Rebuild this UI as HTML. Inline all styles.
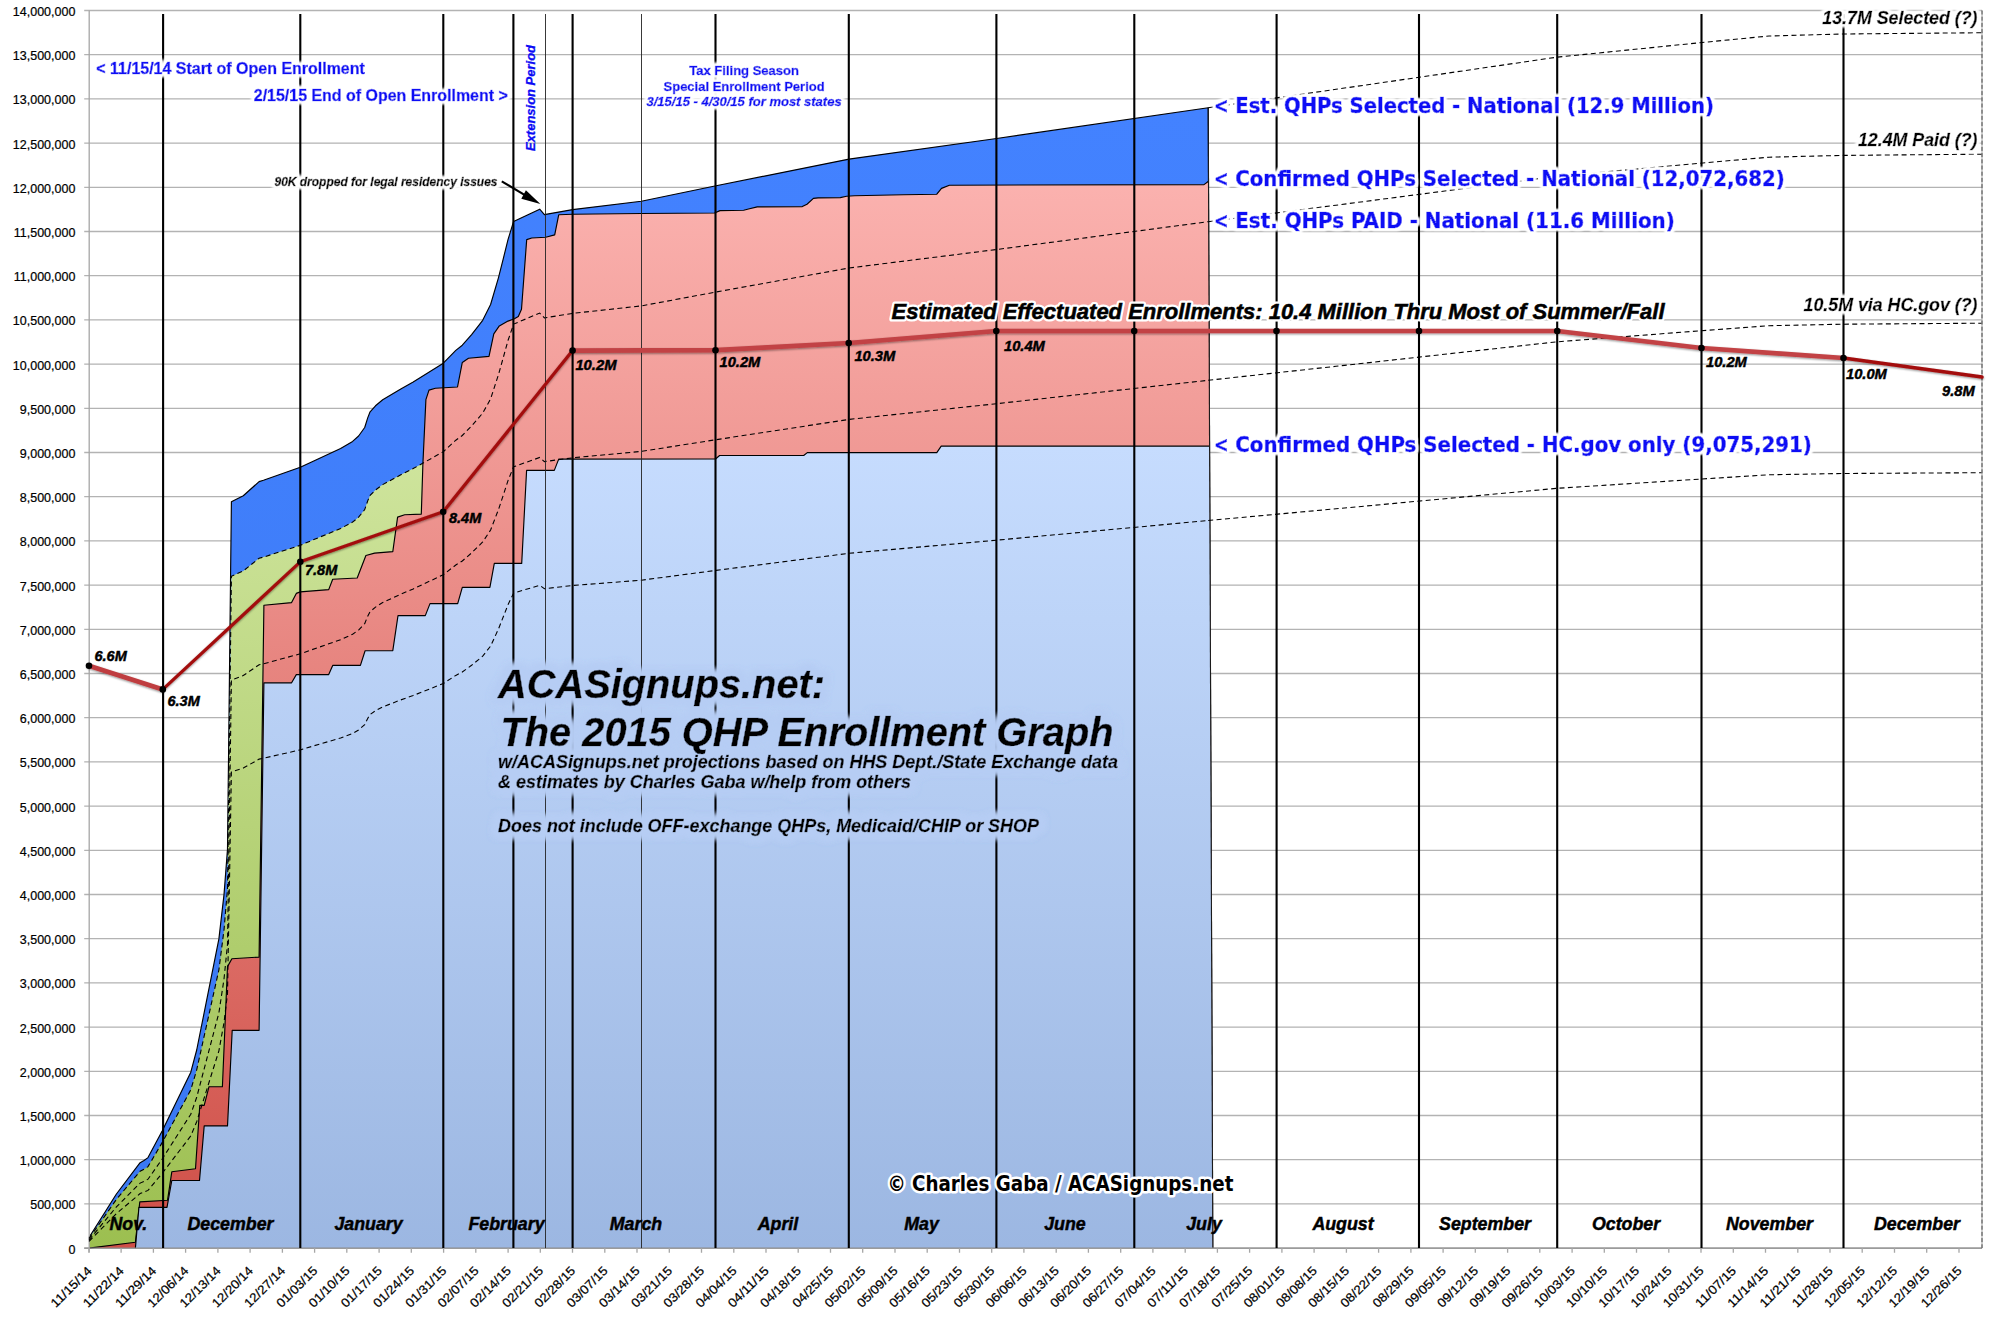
<!DOCTYPE html>
<html lang="en"><head><meta charset="utf-8"><title>ACASignups.net: The 2015 QHP Enrollment Graph</title>
<style>html,body{margin:0;padding:0;background:#fff}svg{display:block}text{font-family:"Liberation Sans",sans-serif}.bi{font-weight:bold;font-style:italic}.lg,.lg text{font-family:"DejaVu Sans Condensed","DejaVu Sans","Liberation Sans",sans-serif;font-weight:bold}.ax{font-family:"Liberation Sans",sans-serif;font-size:12.5px;fill:#000;stroke:#000;stroke-width:.22px}.sb text,text.sb{stroke:#0a0af5;stroke-width:.6px}.sk text,text.sk{stroke:#000;stroke-width:.45px}</style></head><body>
<svg width="2006" height="1327" viewBox="0 0 2006 1327">
<defs>
<linearGradient id="gR" gradientUnits="userSpaceOnUse" x1="0" y1="181" x2="0" y2="1248"><stop offset="0" stop-color="#fbb2af"/><stop offset="1" stop-color="#cf4f47"/></linearGradient>
<linearGradient id="gL" gradientUnits="userSpaceOnUse" x1="0" y1="446" x2="0" y2="1248"><stop offset="0" stop-color="#c6dcfe"/><stop offset="1" stop-color="#9cb7e2"/></linearGradient>
<linearGradient id="gG" gradientUnits="userSpaceOnUse" x1="0" y1="462" x2="0" y2="1248"><stop offset="0" stop-color="#cee49c"/><stop offset="1" stop-color="#9cbf50"/></linearGradient>
<linearGradient id="gB" gradientUnits="userSpaceOnUse" x1="0" y1="107" x2="0" y2="1248"><stop offset="0" stop-color="#4382ff"/><stop offset="1" stop-color="#3a78f2"/></linearGradient>
<filter id="gw" x="-5%" y="-40%" width="110%" height="180%"><feMorphology in="SourceAlpha" operator="dilate" radius="2" result="d"/><feGaussianBlur in="d" stdDeviation="1.4" result="b"/><feFlood flood-color="#fff" result="f"/><feComposite in="f" in2="b" operator="in" result="g"/><feMerge><feMergeNode in="g"/><feMergeNode in="g"/><feMergeNode in="g"/><feMergeNode in="SourceGraphic"/></feMerge></filter>
<filter id="gt" x="-5%" y="-15%" width="110%" height="130%"><feMorphology in="SourceAlpha" operator="dilate" radius="4" result="d"/><feGaussianBlur in="d" stdDeviation="3.6" result="b"/><feFlood flood-color="#b6cdf4" result="f"/><feComposite in="f" in2="b" operator="in" result="g"/><feMerge><feMergeNode in="g"/><feMergeNode in="g"/><feMergeNode in="g"/><feMergeNode in="g"/><feMergeNode in="SourceGraphic"/></feMerge></filter>
<filter id="ls" x="-5%" y="-5%" width="110%" height="110%"><feGaussianBlur in="SourceAlpha" stdDeviation="1.2" result="b"/><feOffset in="b" dx="0" dy="1" result="o"/><feComponentTransfer in="o" result="s"><feFuncA type="linear" slope="0.45"/></feComponentTransfer><feMerge><feMergeNode in="s"/><feMergeNode in="SourceGraphic"/></feMerge></filter>
<filter id="sb" x="-2%" y="-30%" width="104%" height="160%"><feGaussianBlur stdDeviation="0.7"/></filter>
<filter id="gw2" x="-3%" y="-40%" width="106%" height="180%"><feMorphology in="SourceAlpha" operator="dilate" radius="1.5" result="d"/><feGaussianBlur in="d" stdDeviation="1.1" result="b"/><feFlood flood-color="#fff" result="f"/><feComposite in="f" in2="b" operator="in" result="g"/><feMerge><feMergeNode in="g"/><feMergeNode in="g"/><feMergeNode in="g"/><feMergeNode in="SourceGraphic"/></feMerge></filter>
</defs>
<rect width="2006" height="1327" fill="#fff"/>
<path d="M84.2 1248.10H1982.0M84.2 1203.90H1982.0M84.2 1159.70H1982.0M84.2 1115.50H1982.0M84.2 1071.30H1982.0M84.2 1027.10H1982.0M84.2 982.90H1982.0M84.2 938.70H1982.0M84.2 894.50H1982.0M84.2 850.30H1982.0M84.2 806.10H1982.0M84.2 761.90H1982.0M84.2 717.70H1982.0M84.2 673.50H1982.0M84.2 629.30H1982.0M84.2 585.10H1982.0M84.2 540.90H1982.0M84.2 496.70H1982.0M84.2 452.50H1982.0M84.2 408.30H1982.0M84.2 364.10H1982.0M84.2 319.90H1982.0M84.2 275.70H1982.0M84.2 231.50H1982.0M84.2 187.30H1982.0M84.2 143.10H1982.0M84.2 98.90H1982.0M84.2 54.70H1982.0M84.2 10.50H1982.0" stroke="#b3b3b3" stroke-width="1.3" fill="none"/>
<polygon points="89.0,1248.1 89.0,1237.5 116.4,1194.0 140.1,1162.7 144.0,1160.5 148.0,1157.6 162.3,1130.7 190.8,1072.2 196.7,1050.0 218.9,938.9 224.0,894.6 227.5,849.0 231.4,501.7 243.3,495.7 259.1,481.6 263.5,480.3 300.3,467.2 311.6,461.9 340.6,448.6 352.6,441.4 358.6,436.0 364.7,427.5 367.7,417.9 370.1,411.8 375.5,405.8 382.7,399.8 400.8,388.9 413.2,382.0 443.3,363.2 455.8,350.4 462.3,345.2 471.6,334.6 482.7,320.3 490.6,304.5 498.5,277.6 503.3,258.6 508.0,239.6 513.6,221.4 539.7,209.2 544.4,214.6 572.6,209.6 641.3,201.2 716.1,185.8 849.0,159.1 996.6,138.5 1208.2,107.7 1212.8,1248.1" fill="url(#gB)"/>
<polyline points="89.0,1237.5 116.4,1194.0 140.1,1162.7 144.0,1160.5 148.0,1157.6 162.3,1130.7 190.8,1072.2 196.7,1050.0 218.9,938.9 224.0,894.6 227.5,849.0 231.4,501.7 243.3,495.7 259.1,481.6 263.5,480.3 300.3,467.2 311.6,461.9 340.6,448.6 352.6,441.4 358.6,436.0 364.7,427.5 367.7,417.9 370.1,411.8 375.5,405.8 382.7,399.8 400.8,388.9 413.2,382.0 443.3,363.2 455.8,350.4 462.3,345.2 471.6,334.6 482.7,320.3 490.6,304.5 498.5,277.6 503.3,258.6 508.0,239.6 513.6,221.4 539.7,209.2 544.4,214.6 572.6,209.6 641.3,201.2 716.1,185.8 849.0,159.1 996.6,138.5 1208.2,107.7 1212.8,1248.1" fill="none" stroke="#000" stroke-width="1.15" stroke-linejoin="round"/>
<polygon points="89.0,1248.1 89.0,1238.6 116.4,1199.4 140.1,1171.2 144.0,1169.3 148.0,1166.6 162.3,1142.4 190.8,1089.8 196.7,1069.8 218.9,969.8 224.0,930.0 227.5,888.9 231.4,576.3 243.3,570.9 259.1,558.2 263.5,557.1 300.3,545.3 311.6,540.5 340.6,528.5 352.6,522.1 358.6,517.2 364.7,509.6 367.7,500.9 370.1,495.4 375.5,490.0 382.7,484.6 400.8,474.8 413.2,468.6 422.9,463.2 423.5,1248.1" fill="url(#gG)" stroke="none"/>
<polygon points="89.0,1248.1 135.4,1242.2 139.8,1201.9 167.5,1200.3 171.8,1171.8 195.5,1168.7 199.8,1105.4 204.2,1105.4 209.0,1086.7 222.4,1086.7 227.5,966.6 231.9,958.7 259.1,957.1 263.9,605.3 291.6,602.6 296.3,593.4 300.3,591.9 328.7,589.6 332.7,579.2 357.2,578.0 365.9,555.5 374.6,553.1 392.8,551.6 397.6,517.1 404.7,514.7 421.3,514.1 422.9,463.7 425.9,399.6 429.0,390.1 435.4,388.2 457.5,387.0 462.3,362.4 468.5,358.3 489.0,356.4 493.8,333.8 499.3,325.9 508.0,321.1 514.4,318.7 518.3,316.4 521.5,309.2 526.7,239.6 531.8,238.0 545.7,237.2 554.7,234.9 558.7,214.8 572.6,214.3 641.3,213.5 714.5,213.0 720.0,210.6 743.7,210.2 748.5,209.0 757.2,206.9 802.3,206.6 807.0,204.2 813.4,198.4 818.1,197.9 840.3,197.6 846.6,196.3 854.5,195.8 903.5,194.7 936.8,194.2 941.5,188.4 949.4,185.2 1204.0,184.6 1208.5,181.3 1212.8,1248.1" fill="url(#gR)"/>
<polyline points="89.0,1248.1 135.4,1242.2 139.8,1201.9 167.5,1200.3 171.8,1171.8 195.5,1168.7 199.8,1105.4 204.2,1105.4 209.0,1086.7 222.4,1086.7 227.5,966.6 231.9,958.7 259.1,957.1 263.9,605.3 291.6,602.6 296.3,593.4 300.3,591.9 328.7,589.6 332.7,579.2 357.2,578.0 365.9,555.5 374.6,553.1 392.8,551.6 397.6,517.1 404.7,514.7 421.3,514.1 422.9,463.7 425.9,399.6 429.0,390.1 435.4,388.2 457.5,387.0 462.3,362.4 468.5,358.3 489.0,356.4 493.8,333.8 499.3,325.9 508.0,321.1 514.4,318.7 518.3,316.4 521.5,309.2 526.7,239.6 531.8,238.0 545.7,237.2 554.7,234.9 558.7,214.8 572.6,214.3 641.3,213.5 714.5,213.0 720.0,210.6 743.7,210.2 748.5,209.0 757.2,206.9 802.3,206.6 807.0,204.2 813.4,198.4 818.1,197.9 840.3,197.6 846.6,196.3 854.5,195.8 903.5,194.7 936.8,194.2 941.5,188.4 949.4,185.2 1204.0,184.6 1208.5,181.3" fill="none" stroke="#000" stroke-width="1.15" stroke-linejoin="round"/>
<polygon points="135.4,1248.1 138.9,1207.4 167.0,1207.4 171.8,1180.5 199.5,1180.5 204.2,1125.9 227.5,1125.9 232.2,1030.3 259.1,1030.3 263.9,682.8 291.6,682.8 296.3,674.6 328.7,674.6 332.7,665.4 360.4,665.4 365.1,650.7 392.8,650.7 398.0,615.6 425.3,615.6 430.0,603.6 457.7,603.6 462.3,587.4 489.9,587.4 494.3,563.4 521.7,563.4 526.6,470.4 554.3,470.4 558.7,459.1 715.5,459.0 719.6,455.5 803.7,455.5 807.3,452.6 936.8,452.6 941.2,446.1 1209.6,446.1 1212.8,1248.1" fill="url(#gL)"/>
<polyline points="135.4,1248.1 138.9,1207.4 167.0,1207.4 171.8,1180.5 199.5,1180.5 204.2,1125.9 227.5,1125.9 232.2,1030.3 259.1,1030.3 263.9,682.8 291.6,682.8 296.3,674.6 328.7,674.6 332.7,665.4 360.4,665.4 365.1,650.7 392.8,650.7 398.0,615.6 425.3,615.6 430.0,603.6 457.7,603.6 462.3,587.4 489.9,587.4 494.3,563.4 521.7,563.4 526.6,470.4 554.3,470.4 558.7,459.1 715.5,459.0 719.6,455.5 803.7,455.5 807.3,452.6 936.8,452.6 941.2,446.1 1209.6,446.1" fill="none" stroke="#000" stroke-width="1.15" stroke-linejoin="round"/>
<path d="M1208.2 107.7L1212.8 1248.1" stroke="#1a1a1a" stroke-width="1.1" fill="none"/>
<path d="M84.2 1248.1H1982.0" stroke="#8c8c8c" stroke-width="1.3" fill="none"/>
<path d="M89.2 10.5V1252.6" stroke="#a6a6a6" stroke-width="1.3" fill="none"/>
<path d="M88.9 1248.1v4.6M121.1 1248.1v4.6M153.4 1248.1v4.6M185.6 1248.1v4.6M217.9 1248.1v4.6M250.1 1248.1v4.6M282.4 1248.1v4.6M314.6 1248.1v4.6M346.8 1248.1v4.6M379.1 1248.1v4.6M411.3 1248.1v4.6M443.6 1248.1v4.6M475.8 1248.1v4.6M508.1 1248.1v4.6M540.3 1248.1v4.6M572.5 1248.1v4.6M604.8 1248.1v4.6M637.0 1248.1v4.6M669.3 1248.1v4.6M701.5 1248.1v4.6M733.8 1248.1v4.6M766.0 1248.1v4.6M798.2 1248.1v4.6M830.5 1248.1v4.6M862.7 1248.1v4.6M895.0 1248.1v4.6M927.2 1248.1v4.6M959.5 1248.1v4.6M991.7 1248.1v4.6M1023.9 1248.1v4.6M1056.2 1248.1v4.6M1088.4 1248.1v4.6M1120.7 1248.1v4.6M1152.9 1248.1v4.6M1185.2 1248.1v4.6M1217.4 1248.1v4.6M1249.6 1248.1v4.6M1281.9 1248.1v4.6M1314.1 1248.1v4.6M1346.4 1248.1v4.6M1378.6 1248.1v4.6M1410.9 1248.1v4.6M1443.1 1248.1v4.6M1475.3 1248.1v4.6M1507.6 1248.1v4.6M1539.8 1248.1v4.6M1572.1 1248.1v4.6M1604.3 1248.1v4.6M1636.5 1248.1v4.6M1668.8 1248.1v4.6M1701.0 1248.1v4.6M1733.3 1248.1v4.6M1765.5 1248.1v4.6M1797.8 1248.1v4.6M1830.0 1248.1v4.6M1862.2 1248.1v4.6M1894.5 1248.1v4.6M1926.7 1248.1v4.6M1959.0 1248.1v4.6" stroke="#a6a6a6" stroke-width="1.3" fill="none"/>
<polyline points="89.0,1238.6 116.4,1199.4 140.1,1171.2 144.0,1169.3 148.0,1166.6 162.3,1142.4 190.8,1089.8 196.7,1069.8 218.9,969.8 224.0,930.0 227.5,888.9 231.4,576.3 243.3,570.9 259.1,558.2 263.5,557.1 300.3,545.3 311.6,540.5 340.6,528.5 352.6,522.1 358.6,517.2 364.7,509.6 367.7,500.9 370.1,495.4 375.5,490.0 382.7,484.6 400.8,474.8 413.2,468.6 443.3,451.7 455.8,440.2 462.3,435.5 471.6,426.0 482.7,413.1 490.6,398.9 498.5,374.6 503.3,357.5 508.0,340.5 513.6,324.1 539.7,313.1 544.4,317.9 572.6,313.4 641.3,305.9 716.1,292.0 849.0,268.0 996.6,249.5 1208.2,221.7" fill="none" stroke="#000" stroke-width="1.1" stroke-dasharray="5 3.4"/>
<polyline points="89.0,1240.0 116.4,1206.9 140.1,1183.1 144.0,1181.4 148.0,1179.2 162.3,1158.8 190.8,1114.2 196.7,1097.3 218.9,1012.8 224.0,979.1 227.5,944.4 231.4,680.1 243.3,675.5 259.1,664.8 263.5,663.8 300.3,653.8 311.6,649.8 340.6,639.7 352.6,634.2 358.6,630.1 364.7,623.6 367.7,616.3 370.1,611.7 375.5,607.1 382.7,602.5 400.8,594.2 413.2,589.0 443.3,574.7 455.8,565.0 462.3,561.0 471.6,552.9 482.7,542.0 490.6,530.0 498.5,509.5 503.3,495.1 508.0,480.6 513.6,466.8 539.7,457.5 544.4,461.6 572.6,457.8 641.3,451.4 716.1,439.7 849.0,419.4 996.6,403.7 1208.2,380.3" fill="none" stroke="#000" stroke-width="1.1" stroke-dasharray="5 3.4"/>
<polyline points="89.0,1241.3 116.4,1213.6 140.1,1193.6 144.0,1192.2 148.0,1190.4 162.3,1173.2 190.8,1135.9 196.7,1121.7 218.9,1050.8 224.0,1022.6 227.5,993.5 231.4,771.9 243.3,768.1 259.1,759.1 263.5,758.2 300.3,749.9 311.6,746.5 340.6,738.0 352.6,733.4 358.6,730.0 364.7,724.6 367.7,718.4 370.1,714.5 375.5,710.7 382.7,706.9 400.8,699.9 413.2,695.5 443.3,683.5 455.8,675.4 462.3,672.0 471.6,665.3 482.7,656.2 490.6,646.1 498.5,628.9 503.3,616.8 508.0,604.7 513.6,593.1 539.7,585.3 544.4,588.7 572.6,585.5 641.3,580.2 716.1,570.4 849.0,553.3 996.6,540.2 1208.2,520.5" fill="none" stroke="#000" stroke-width="1.1" stroke-dasharray="5 3.4"/>
<polyline points="1208.2,107.7 1336.0,89.3 1419.0,77.3 1556.0,57.3 1700.0,42.7 1769.0,36.0 1842.7,34.0 1982.0,32.7" fill="none" stroke="#000" stroke-width="1.1" stroke-dasharray="5 3.4"/>
<polyline points="1208.2,221.7 1336.0,205.2 1419.0,194.4 1556.0,176.4 1700.0,163.2 1769.0,157.2 1842.7,155.4 1982.0,154.2" fill="none" stroke="#000" stroke-width="1.1" stroke-dasharray="5 3.4"/>
<polyline points="1208.2,380.3 1336.0,366.3 1419.0,357.1 1556.0,341.9 1700.0,330.8 1769.0,325.7 1842.7,324.2 1982.0,323.2" fill="none" stroke="#000" stroke-width="1.1" stroke-dasharray="5 3.4"/>
<polyline points="1208.2,520.5 1336.0,508.8 1419.0,501.1 1556.0,488.4 1700.0,479.1 1769.0,474.8 1842.7,473.5 1982.0,472.7" fill="none" stroke="#000" stroke-width="1.1" stroke-dasharray="5 3.4"/>
<path d="M1982.0 10.5V1248.1" stroke="#b3b3b3" stroke-width="1.2" fill="none"/>
<path d="M1982.0 10.5V1248.1" stroke="#4d4d4d" stroke-width="1" stroke-dasharray="4 2.2" fill="none"/>
<path d="M163.1 14V1248.1M300.3 14V1248.1M443.3 14V1248.1M513.4 14V1248.1M572.6 14V1248.1M715.5 14V1248.1M848.8 14V1248.1M996.4 14V1248.1M1134.3 14V1248.1M1276.6 14V1248.1M1419.0 14V1248.1M1557.2 14V1248.1M1701.5 14V1248.1M1843.5 14V1248.1" stroke="#000" stroke-width="2.1" fill="none"/>
<path d="M545.5 14V1248.1M641.5 14V1248.1" stroke="#222" stroke-width="0.9" fill="none"/>
<g filter="url(#ls)" fill="none" stroke-linejoin="round" stroke-linecap="round">
<polyline points="89.0,665.8 162.8,689.4" stroke="#bf3d3f" stroke-width="4.7"/>
<polyline points="162.8,689.4 300.3,561.8 443.2,511.8 572.6,350.6" stroke="#a30d0d" stroke-width="3.2"/>
<polyline points="572.6,350.6 715.5,350.2 848.7,343.0 996.3,331.0 1134.2,331.0 1276.5,331.0 1419.0,331.0 1557.2,331.0 1701.5,348.0 1843.5,358.0" stroke="#c24245" stroke-width="4.7"/>
<polyline points="1843.5,358.0 1982.0,377.0" stroke="#a30d0d" stroke-width="3.6"/>
</g>
<circle cx="89.0" cy="665.8" r="3.3" fill="#000"/>
<circle cx="162.8" cy="689.4" r="3.3" fill="#000"/>
<circle cx="300.3" cy="561.8" r="3.3" fill="#000"/>
<circle cx="443.2" cy="511.8" r="3.3" fill="#000"/>
<circle cx="572.6" cy="350.6" r="3.3" fill="#000"/>
<circle cx="715.5" cy="350.2" r="3.3" fill="#000"/>
<circle cx="848.7" cy="343.0" r="3.3" fill="#000"/>
<circle cx="996.3" cy="331.0" r="3.3" fill="#000"/>
<circle cx="1134.2" cy="331.0" r="3.3" fill="#000"/>
<circle cx="1276.5" cy="331.0" r="3.3" fill="#000"/>
<circle cx="1419.0" cy="331.0" r="3.3" fill="#000"/>
<circle cx="1557.2" cy="331.0" r="3.3" fill="#000"/>
<circle cx="1701.5" cy="348.0" r="3.3" fill="#000"/>
<circle cx="1843.5" cy="358.0" r="3.3" fill="#000"/>
<text class="ax" x="75.4" y="1253.5" text-anchor="end">0</text>
<text class="ax" x="75.4" y="1209.3" text-anchor="end">500,000</text>
<text class="ax" x="75.4" y="1165.1" text-anchor="end">1,000,000</text>
<text class="ax" x="75.4" y="1120.9" text-anchor="end">1,500,000</text>
<text class="ax" x="75.4" y="1076.7" text-anchor="end">2,000,000</text>
<text class="ax" x="75.4" y="1032.5" text-anchor="end">2,500,000</text>
<text class="ax" x="75.4" y="988.3" text-anchor="end">3,000,000</text>
<text class="ax" x="75.4" y="944.1" text-anchor="end">3,500,000</text>
<text class="ax" x="75.4" y="899.9" text-anchor="end">4,000,000</text>
<text class="ax" x="75.4" y="855.7" text-anchor="end">4,500,000</text>
<text class="ax" x="75.4" y="811.5" text-anchor="end">5,000,000</text>
<text class="ax" x="75.4" y="767.3" text-anchor="end">5,500,000</text>
<text class="ax" x="75.4" y="723.1" text-anchor="end">6,000,000</text>
<text class="ax" x="75.4" y="678.9" text-anchor="end">6,500,000</text>
<text class="ax" x="75.4" y="634.7" text-anchor="end">7,000,000</text>
<text class="ax" x="75.4" y="590.5" text-anchor="end">7,500,000</text>
<text class="ax" x="75.4" y="546.3" text-anchor="end">8,000,000</text>
<text class="ax" x="75.4" y="502.1" text-anchor="end">8,500,000</text>
<text class="ax" x="75.4" y="457.9" text-anchor="end">9,000,000</text>
<text class="ax" x="75.4" y="413.7" text-anchor="end">9,500,000</text>
<text class="ax" x="75.4" y="369.5" text-anchor="end">10,000,000</text>
<text class="ax" x="75.4" y="325.3" text-anchor="end">10,500,000</text>
<text class="ax" x="75.4" y="281.1" text-anchor="end">11,000,000</text>
<text class="ax" x="75.4" y="236.9" text-anchor="end">11,500,000</text>
<text class="ax" x="75.4" y="192.7" text-anchor="end">12,000,000</text>
<text class="ax" x="75.4" y="148.5" text-anchor="end">12,500,000</text>
<text class="ax" x="75.4" y="104.3" text-anchor="end">13,000,000</text>
<text class="ax" x="75.4" y="60.1" text-anchor="end">13,500,000</text>
<text class="ax" x="75.4" y="15.9" text-anchor="end">14,000,000</text>
<text class="ax" transform="translate(92.5 1271.6) rotate(-45)" text-anchor="end" font-size="13" textLength="51.8" lengthAdjust="spacingAndGlyphs">11/15/14</text>
<text class="ax" transform="translate(124.7 1271.6) rotate(-45)" text-anchor="end" font-size="13" textLength="51.8" lengthAdjust="spacingAndGlyphs">11/22/14</text>
<text class="ax" transform="translate(157.0 1271.6) rotate(-45)" text-anchor="end" font-size="13" textLength="51.8" lengthAdjust="spacingAndGlyphs">11/29/14</text>
<text class="ax" transform="translate(189.2 1271.6) rotate(-45)" text-anchor="end" font-size="13" textLength="51.8" lengthAdjust="spacingAndGlyphs">12/06/14</text>
<text class="ax" transform="translate(221.5 1271.6) rotate(-45)" text-anchor="end" font-size="13" textLength="51.8" lengthAdjust="spacingAndGlyphs">12/13/14</text>
<text class="ax" transform="translate(253.7 1271.6) rotate(-45)" text-anchor="end" font-size="13" textLength="51.8" lengthAdjust="spacingAndGlyphs">12/20/14</text>
<text class="ax" transform="translate(286.0 1271.6) rotate(-45)" text-anchor="end" font-size="13" textLength="51.8" lengthAdjust="spacingAndGlyphs">12/27/14</text>
<text class="ax" transform="translate(318.2 1271.6) rotate(-45)" text-anchor="end" font-size="13" textLength="51.8" lengthAdjust="spacingAndGlyphs">01/03/15</text>
<text class="ax" transform="translate(350.4 1271.6) rotate(-45)" text-anchor="end" font-size="13" textLength="51.8" lengthAdjust="spacingAndGlyphs">01/10/15</text>
<text class="ax" transform="translate(382.7 1271.6) rotate(-45)" text-anchor="end" font-size="13" textLength="51.8" lengthAdjust="spacingAndGlyphs">01/17/15</text>
<text class="ax" transform="translate(414.9 1271.6) rotate(-45)" text-anchor="end" font-size="13" textLength="51.8" lengthAdjust="spacingAndGlyphs">01/24/15</text>
<text class="ax" transform="translate(447.2 1271.6) rotate(-45)" text-anchor="end" font-size="13" textLength="51.8" lengthAdjust="spacingAndGlyphs">01/31/15</text>
<text class="ax" transform="translate(479.4 1271.6) rotate(-45)" text-anchor="end" font-size="13" textLength="51.8" lengthAdjust="spacingAndGlyphs">02/07/15</text>
<text class="ax" transform="translate(511.7 1271.6) rotate(-45)" text-anchor="end" font-size="13" textLength="51.8" lengthAdjust="spacingAndGlyphs">02/14/15</text>
<text class="ax" transform="translate(543.9 1271.6) rotate(-45)" text-anchor="end" font-size="13" textLength="51.8" lengthAdjust="spacingAndGlyphs">02/21/15</text>
<text class="ax" transform="translate(576.1 1271.6) rotate(-45)" text-anchor="end" font-size="13" textLength="51.8" lengthAdjust="spacingAndGlyphs">02/28/15</text>
<text class="ax" transform="translate(608.4 1271.6) rotate(-45)" text-anchor="end" font-size="13" textLength="51.8" lengthAdjust="spacingAndGlyphs">03/07/15</text>
<text class="ax" transform="translate(640.6 1271.6) rotate(-45)" text-anchor="end" font-size="13" textLength="51.8" lengthAdjust="spacingAndGlyphs">03/14/15</text>
<text class="ax" transform="translate(672.9 1271.6) rotate(-45)" text-anchor="end" font-size="13" textLength="51.8" lengthAdjust="spacingAndGlyphs">03/21/15</text>
<text class="ax" transform="translate(705.1 1271.6) rotate(-45)" text-anchor="end" font-size="13" textLength="51.8" lengthAdjust="spacingAndGlyphs">03/28/15</text>
<text class="ax" transform="translate(737.4 1271.6) rotate(-45)" text-anchor="end" font-size="13" textLength="51.8" lengthAdjust="spacingAndGlyphs">04/04/15</text>
<text class="ax" transform="translate(769.6 1271.6) rotate(-45)" text-anchor="end" font-size="13" textLength="51.8" lengthAdjust="spacingAndGlyphs">04/11/15</text>
<text class="ax" transform="translate(801.8 1271.6) rotate(-45)" text-anchor="end" font-size="13" textLength="51.8" lengthAdjust="spacingAndGlyphs">04/18/15</text>
<text class="ax" transform="translate(834.1 1271.6) rotate(-45)" text-anchor="end" font-size="13" textLength="51.8" lengthAdjust="spacingAndGlyphs">04/25/15</text>
<text class="ax" transform="translate(866.3 1271.6) rotate(-45)" text-anchor="end" font-size="13" textLength="51.8" lengthAdjust="spacingAndGlyphs">05/02/15</text>
<text class="ax" transform="translate(898.6 1271.6) rotate(-45)" text-anchor="end" font-size="13" textLength="51.8" lengthAdjust="spacingAndGlyphs">05/09/15</text>
<text class="ax" transform="translate(930.8 1271.6) rotate(-45)" text-anchor="end" font-size="13" textLength="51.8" lengthAdjust="spacingAndGlyphs">05/16/15</text>
<text class="ax" transform="translate(963.1 1271.6) rotate(-45)" text-anchor="end" font-size="13" textLength="51.8" lengthAdjust="spacingAndGlyphs">05/23/15</text>
<text class="ax" transform="translate(995.3 1271.6) rotate(-45)" text-anchor="end" font-size="13" textLength="51.8" lengthAdjust="spacingAndGlyphs">05/30/15</text>
<text class="ax" transform="translate(1027.5 1271.6) rotate(-45)" text-anchor="end" font-size="13" textLength="51.8" lengthAdjust="spacingAndGlyphs">06/06/15</text>
<text class="ax" transform="translate(1059.8 1271.6) rotate(-45)" text-anchor="end" font-size="13" textLength="51.8" lengthAdjust="spacingAndGlyphs">06/13/15</text>
<text class="ax" transform="translate(1092.0 1271.6) rotate(-45)" text-anchor="end" font-size="13" textLength="51.8" lengthAdjust="spacingAndGlyphs">06/20/15</text>
<text class="ax" transform="translate(1124.3 1271.6) rotate(-45)" text-anchor="end" font-size="13" textLength="51.8" lengthAdjust="spacingAndGlyphs">06/27/15</text>
<text class="ax" transform="translate(1156.5 1271.6) rotate(-45)" text-anchor="end" font-size="13" textLength="51.8" lengthAdjust="spacingAndGlyphs">07/04/15</text>
<text class="ax" transform="translate(1188.8 1271.6) rotate(-45)" text-anchor="end" font-size="13" textLength="51.8" lengthAdjust="spacingAndGlyphs">07/11/15</text>
<text class="ax" transform="translate(1221.0 1271.6) rotate(-45)" text-anchor="end" font-size="13" textLength="51.8" lengthAdjust="spacingAndGlyphs">07/18/15</text>
<text class="ax" transform="translate(1253.2 1271.6) rotate(-45)" text-anchor="end" font-size="13" textLength="51.8" lengthAdjust="spacingAndGlyphs">07/25/15</text>
<text class="ax" transform="translate(1285.5 1271.6) rotate(-45)" text-anchor="end" font-size="13" textLength="51.8" lengthAdjust="spacingAndGlyphs">08/01/15</text>
<text class="ax" transform="translate(1317.7 1271.6) rotate(-45)" text-anchor="end" font-size="13" textLength="51.8" lengthAdjust="spacingAndGlyphs">08/08/15</text>
<text class="ax" transform="translate(1350.0 1271.6) rotate(-45)" text-anchor="end" font-size="13" textLength="51.8" lengthAdjust="spacingAndGlyphs">08/15/15</text>
<text class="ax" transform="translate(1382.2 1271.6) rotate(-45)" text-anchor="end" font-size="13" textLength="51.8" lengthAdjust="spacingAndGlyphs">08/22/15</text>
<text class="ax" transform="translate(1414.5 1271.6) rotate(-45)" text-anchor="end" font-size="13" textLength="51.8" lengthAdjust="spacingAndGlyphs">08/29/15</text>
<text class="ax" transform="translate(1446.7 1271.6) rotate(-45)" text-anchor="end" font-size="13" textLength="51.8" lengthAdjust="spacingAndGlyphs">09/05/15</text>
<text class="ax" transform="translate(1478.9 1271.6) rotate(-45)" text-anchor="end" font-size="13" textLength="51.8" lengthAdjust="spacingAndGlyphs">09/12/15</text>
<text class="ax" transform="translate(1511.2 1271.6) rotate(-45)" text-anchor="end" font-size="13" textLength="51.8" lengthAdjust="spacingAndGlyphs">09/19/15</text>
<text class="ax" transform="translate(1543.4 1271.6) rotate(-45)" text-anchor="end" font-size="13" textLength="51.8" lengthAdjust="spacingAndGlyphs">09/26/15</text>
<text class="ax" transform="translate(1575.7 1271.6) rotate(-45)" text-anchor="end" font-size="13" textLength="51.8" lengthAdjust="spacingAndGlyphs">10/03/15</text>
<text class="ax" transform="translate(1607.9 1271.6) rotate(-45)" text-anchor="end" font-size="13" textLength="51.8" lengthAdjust="spacingAndGlyphs">10/10/15</text>
<text class="ax" transform="translate(1640.1 1271.6) rotate(-45)" text-anchor="end" font-size="13" textLength="51.8" lengthAdjust="spacingAndGlyphs">10/17/15</text>
<text class="ax" transform="translate(1672.4 1271.6) rotate(-45)" text-anchor="end" font-size="13" textLength="51.8" lengthAdjust="spacingAndGlyphs">10/24/15</text>
<text class="ax" transform="translate(1704.6 1271.6) rotate(-45)" text-anchor="end" font-size="13" textLength="51.8" lengthAdjust="spacingAndGlyphs">10/31/15</text>
<text class="ax" transform="translate(1736.9 1271.6) rotate(-45)" text-anchor="end" font-size="13" textLength="51.8" lengthAdjust="spacingAndGlyphs">11/07/15</text>
<text class="ax" transform="translate(1769.1 1271.6) rotate(-45)" text-anchor="end" font-size="13" textLength="51.8" lengthAdjust="spacingAndGlyphs">11/14/15</text>
<text class="ax" transform="translate(1801.4 1271.6) rotate(-45)" text-anchor="end" font-size="13" textLength="51.8" lengthAdjust="spacingAndGlyphs">11/21/15</text>
<text class="ax" transform="translate(1833.6 1271.6) rotate(-45)" text-anchor="end" font-size="13" textLength="51.8" lengthAdjust="spacingAndGlyphs">11/28/15</text>
<text class="ax" transform="translate(1865.8 1271.6) rotate(-45)" text-anchor="end" font-size="13" textLength="51.8" lengthAdjust="spacingAndGlyphs">12/05/15</text>
<text class="ax" transform="translate(1898.1 1271.6) rotate(-45)" text-anchor="end" font-size="13" textLength="51.8" lengthAdjust="spacingAndGlyphs">12/12/15</text>
<text class="ax" transform="translate(1930.3 1271.6) rotate(-45)" text-anchor="end" font-size="13" textLength="51.8" lengthAdjust="spacingAndGlyphs">12/19/15</text>
<text class="ax" transform="translate(1962.6 1271.6) rotate(-45)" text-anchor="end" font-size="13" textLength="51.8" lengthAdjust="spacingAndGlyphs">12/26/15</text>
<text class="bi sk" x="128.3" y="1229.8" font-size="17.8" text-anchor="middle">Nov.</text>
<text class="bi sk" x="230.5" y="1229.8" font-size="17.8" text-anchor="middle">December</text>
<text class="bi sk" x="368.5" y="1229.8" font-size="17.8" text-anchor="middle">January</text>
<text class="bi sk" x="506.5" y="1229.8" font-size="17.8" text-anchor="middle">February</text>
<text class="bi sk" x="636.0" y="1229.8" font-size="17.8" text-anchor="middle">March</text>
<text class="bi sk" x="778.0" y="1229.8" font-size="17.8" text-anchor="middle">April</text>
<text class="bi sk" x="921.5" y="1229.8" font-size="17.8" text-anchor="middle">May</text>
<text class="bi sk" x="1065.0" y="1229.8" font-size="17.8" text-anchor="middle">June</text>
<text class="bi sk" x="1204.0" y="1229.8" font-size="17.8" text-anchor="middle">July</text>
<text class="bi sk" x="1343.0" y="1229.8" font-size="17.8" text-anchor="middle">August</text>
<text class="bi sk" x="1485.0" y="1229.8" font-size="17.8" text-anchor="middle">September</text>
<text class="bi sk" x="1626.0" y="1229.8" font-size="17.8" text-anchor="middle">October</text>
<text class="bi sk" x="1769.5" y="1229.8" font-size="17.8" text-anchor="middle">November</text>
<text class="bi sk" x="1917.0" y="1229.8" font-size="17.8" text-anchor="middle">December</text>
<g filter="url(#gw)" class="sb">
<text x="96.3" y="73.8" font-size="16" font-weight="bold" fill="#0a0af5" textLength="268.5" lengthAdjust="spacingAndGlyphs">&lt; 11/15/14 Start of Open Enrollment</text>
<text x="253.8" y="100.9" font-size="16" font-weight="bold" fill="#0a0af5" textLength="254" lengthAdjust="spacingAndGlyphs">2/15/15 End of Open Enrollment &gt;</text>
<text x="744.1" y="74.7" font-size="13" font-weight="bold" fill="#0a0af5" text-anchor="middle">Tax Filing Season</text>
<text x="744.1" y="90.7" font-size="13" font-weight="bold" fill="#0a0af5" text-anchor="middle">Special Enrollment Period</text>
<text class="bi" x="744.1" y="105.9" font-size="13" fill="#0a0af5" text-anchor="middle">3/15/15 - 4/30/15 for most states</text>
<text class="bi" x="274.5" y="185.6" font-size="12" fill="#000" style="stroke:#000;stroke-width:.55px" textLength="223" lengthAdjust="spacingAndGlyphs">90K dropped for legal residency issues</text>
</g>
<text class="bi" style="stroke:#0a0af5;stroke-width:.3px" transform="translate(534.9 151) rotate(-90)" font-size="13" fill="#0a0af5" textLength="106" lengthAdjust="spacingAndGlyphs">Extension Period</text>
<path d="M501.8 181.4L527 196.4" stroke="#000" stroke-width="2.2" fill="none"/>
<polygon points="540.4,204 521.3,198.8 525.9,190.3" fill="#000"/>
<g filter="url(#gw2)" class="lg sb" font-size="21" fill="#0a0af5">
<text x="1214" y="113.4" textLength="14.6" lengthAdjust="spacingAndGlyphs">&lt;</text>
<text x="1235.3" y="113.4" textLength="478.6" lengthAdjust="spacingAndGlyphs">Est. QHPs Selected - National (12.9 Million)</text>
<text x="1214" y="186.0" textLength="14.6" lengthAdjust="spacingAndGlyphs">&lt;</text>
<text x="1235.3" y="186.0" textLength="549.5" lengthAdjust="spacingAndGlyphs">Confirmed QHPs Selected - National (12,072,682)</text>
<text x="1214" y="227.6" textLength="14.6" lengthAdjust="spacingAndGlyphs">&lt;</text>
<text x="1235.3" y="227.6" textLength="439.5" lengthAdjust="spacingAndGlyphs">Est. QHPs PAID - National (11.6 Million)</text>
<text x="1214" y="452.0" textLength="14.6" lengthAdjust="spacingAndGlyphs">&lt;</text>
<text x="1235.3" y="452.0" textLength="576.6" lengthAdjust="spacingAndGlyphs">Confirmed QHPs Selected - HC.gov only (9,075,291)</text>
</g>
<g filter="url(#gw)" class="bi sk" fill="#000" font-size="17.8">
<text x="1977.5" y="23.6" text-anchor="end">13.7M Selected (?)</text>
<text x="1977.5" y="146.2" text-anchor="end">12.4M Paid (?)</text>
<text x="1977.5" y="310.8" text-anchor="end">10.5M via HC.gov (?)</text>
</g>
<text class="bi" x="891.5" y="319.2" font-size="22" fill="#fff" stroke="#fff" stroke-width="5.2" stroke-linejoin="round" filter="url(#sb)" textLength="773" lengthAdjust="spacingAndGlyphs">Estimated Effectuated Enrollments: 10.4 Million Thru Most of Summer/Fall</text>
<text class="bi" x="891.5" y="319.2" font-size="22" fill="#000" stroke="#000" stroke-width=".55" textLength="773" lengthAdjust="spacingAndGlyphs">Estimated Effectuated Enrollments: 10.4 Million Thru Most of Summer/Fall</text>
<text class="bi sk" x="94.5" y="660.6" font-size="14.5" fill="#000">6.6M</text>
<text class="bi sk" x="167.5" y="705.6" font-size="14.5" fill="#000">6.3M</text>
<text class="bi sk" x="305.0" y="575.3" font-size="14.5" fill="#000">7.8M</text>
<text class="bi sk" x="449.0" y="522.6" font-size="14.5" fill="#000">8.4M</text>
<text class="bi sk" x="575.4" y="370.0" font-size="14.8" fill="#000">10.2M</text>
<text class="bi sk" x="719.5" y="367.4" font-size="14.7" fill="#000">10.2M</text>
<text class="bi sk" x="854.4" y="360.6" font-size="14.7" fill="#000">10.3M</text>
<text class="bi sk" x="1004.0" y="350.6" font-size="14.7" fill="#000">10.4M</text>
<text class="bi sk" x="1706.0" y="366.6" font-size="14.7" fill="#000">10.2M</text>
<text class="bi sk" x="1846.0" y="379.0" font-size="14.7" fill="#000">10.0M</text>
<text class="bi sk" x="1942.0" y="395.8" font-size="14.7" fill="#000">9.8M</text>
<g filter="url(#gt)" class="bi sk" fill="#000">
<text x="498" y="698" font-size="40" textLength="327" lengthAdjust="spacingAndGlyphs">ACASignups.net:</text>
<text x="500.5" y="745.6" font-size="40" textLength="613" lengthAdjust="spacingAndGlyphs">The 2015 QHP Enrollment Graph</text>
<text x="498" y="767.8" font-size="18" textLength="620" lengthAdjust="spacingAndGlyphs">w/ACASignups.net projections based on HHS Dept./State Exchange data</text>
<text x="498" y="788.3" font-size="18" textLength="413" lengthAdjust="spacingAndGlyphs">&amp; estimates by Charles Gaba w/help from others</text>
<text x="498" y="832" font-size="18" textLength="541" lengthAdjust="spacingAndGlyphs">Does not include OFF-exchange QHPs, Medicaid/CHIP or SHOP</text>
</g>
<text class="lg" x="887.4" y="1190.8" font-size="21" fill="#000" stroke="#fff" stroke-width="5" stroke-linejoin="round" paint-order="stroke" textLength="346" lengthAdjust="spacingAndGlyphs">© Charles Gaba / ACASignups.net</text>
</svg></body></html>
